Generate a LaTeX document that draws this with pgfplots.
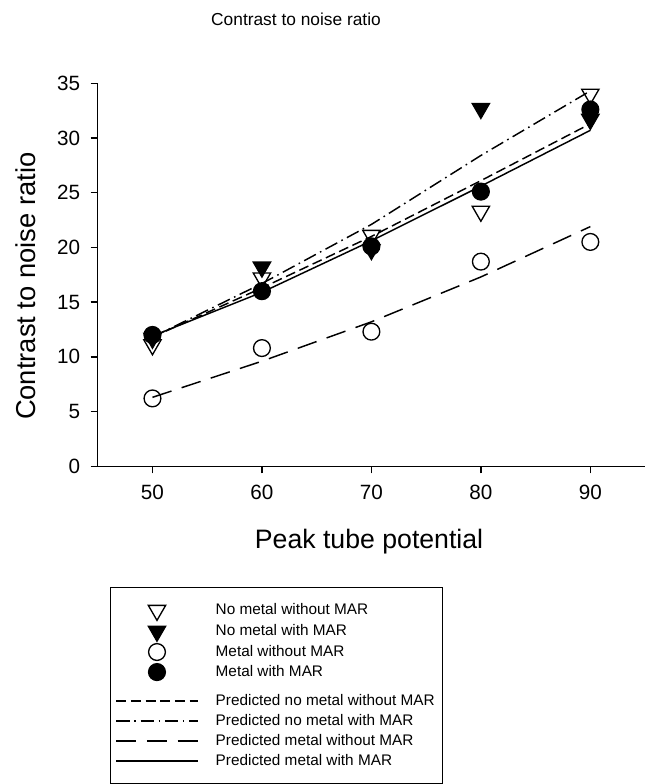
\documentclass[border=0pt]{standalone}
\usepackage{fontspec}
\setmainfont{Liberation Sans}
\usepackage{pgfplots}
\pgfplotsset{compat=1.18}
% legend sample: 61pt wide, a single mark in the middle
\pgfplotsset{leg61/.style={legend image code/.code={\draw[mark repeat=2,mark phase=2,##1] plot coordinates {(0pt,0pt) (30.5pt,0pt) (61pt,0pt)};}}}

\begin{document}
\begin{tikzpicture}
\useasboundingbox (0,0) rectangle (484.5pt,588pt);
\node[font=\fontsize{13}{15}\selectfont] at (222pt,573.5pt) {Contrast to noise ratio};
\begin{axis}[
  at={(73.3pt,238.3pt)}, anchor=south west,
  scale only axis, width=410.5pt, height=287.25pt,
  xmin=45, xmax=95, ymin=0, ymax=35,
  axis x line=bottom, axis y line=left,
  axis line style={line width=1.1pt, -},
  xtick={50,60,70,80,90}, ytick={0,5,...,35},
  tick align=outside, major tick length=5.25pt,
  tick style={line width=1.1pt, black},
  tick label style={font=\fontsize{15.5}{18}\selectfont},
  xticklabel style={yshift=-5.5pt},
  yticklabel style={xshift=-4.5pt},
  /pgf/number format/assume math mode=true,
  xlabel={Peak tube potential}, ylabel={Contrast to noise ratio},
  xlabel style={font=\fontsize{20}{24}\selectfont, at={(axis description cs:0.4957,-0.2141)}, anchor=base},
  ylabel style={font=\fontsize{20.5}{24}\selectfont, at={(axis description cs:-0.1145,0.47)}, anchor=base},
  legend style={at={(axis description cs:0.0225,-0.316)}, anchor=north west,
    draw=black, line width=0.8pt, inner xsep=3.75pt, inner ysep=10pt,
    font=\fontsize{11.5}{13}\selectfont, column sep=11pt, row sep=1.2pt},
  legend cell align=left,
  leg61,
]
\addplot[black, only marks, mark=triangle, mark size=7.5pt,
  mark options={rotate=180, fill=white, line width=1pt, solid}, leg61]
  coordinates {(50,11.1) (60,17.2) (70,21.1) (80,23.3) (90,34.0)};
\addlegendentry{No metal without MAR}
\addplot[black, only marks, mark=triangle*, mark size=7.5pt,
  mark options={rotate=180, fill=black, line width=1pt, solid}, leg61]
  coordinates {(50,11.7) (60,18.2) (70,19.8) (80,32.7) (90,31.7)};
\addlegendentry{No metal with MAR}
\addplot[black, only marks, mark=o, mark size=6.3pt,
  mark options={fill=white, line width=1pt, solid}, leg61]
  coordinates {(50,6.2) (60,10.8) (70,12.3) (80,18.7) (90,20.5)};
\addlegendentry{Metal without MAR}
\addplot[black, only marks, mark=*, mark size=6.3pt,
  mark options={fill=black, line width=1pt, solid}, leg61]
  coordinates {(50,12.0) (60,16.0) (70,20.1) (80,25.1) (90,32.6)};
\addlegendentry{Metal with MAR}
% blank legend row: the gap between the marks and the lines
\addlegendimage{empty legend}
\addlegendentry{}
\addplot[black, line width=1.1pt, dash pattern=on 7.5pt off 3.5pt]
  coordinates {(50,11.8) (60,16.3) (70,21.0) (80,26.1) (90,31.3)};
\addlegendentry{Predicted no metal without MAR}
\addplot[black, line width=1.1pt, dash pattern=on 10pt off 3.5pt on 1.2pt off 3.5pt]
  coordinates {(50,11.8) (60,16.7) (70,22.1) (80,28.4) (90,34.3)};
\addlegendentry{Predicted no metal with MAR}
\addplot[black, line width=1.1pt, dash pattern=on 15pt off 8pt]
  coordinates {(50,6.3) (60,9.6) (70,13.2) (80,17.3) (90,21.9)};
\addlegendentry{Predicted metal without MAR}
\addplot[black, line width=1.1pt, solid]
  coordinates {(50,11.9) (60,15.9) (70,20.6) (80,25.6) (90,30.7)};
\addlegendentry{Predicted metal with MAR}
\end{axis}
\end{tikzpicture}
\end{document}
